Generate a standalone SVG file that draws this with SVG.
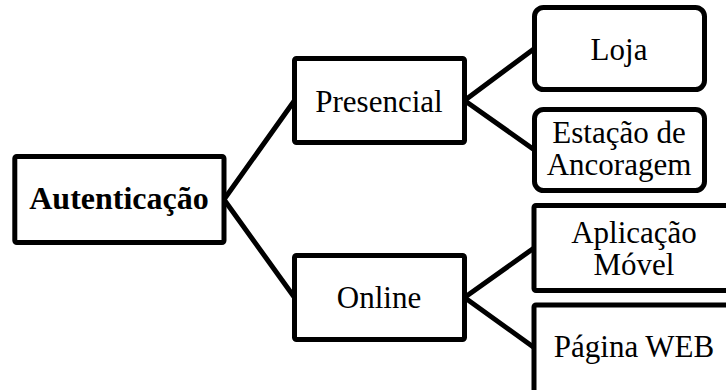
<svg xmlns="http://www.w3.org/2000/svg" width="726" height="390" viewBox="0 0 726 390">
  <style>
    .box { fill: #ffffff; stroke: #000000; stroke-width: 5; stroke-linejoin: round; }
    .link { stroke: #000000; stroke-width: 5; fill: none; stroke-linecap: round; }
    text { font-family: "Liberation Serif", "Times New Roman", serif; font-size: 31px; fill: #000000; text-anchor: middle; }
    .root { font-weight: bold; font-size: 32px; }
  </style>
  <rect width="726" height="390" fill="#ffffff"/>

  <!-- connectors between tree levels -->
  <g id="connectors">
    <line class="link" x1="224" y1="199.5" x2="294.5" y2="100.5"/>
    <line class="link" x1="224" y1="199.5" x2="294.5" y2="297.5"/>
    <line class="link" x1="464.5" y1="100.5" x2="534.5" y2="48.5"/>
    <line class="link" x1="464.5" y1="100.5" x2="534.5" y2="150"/>
    <line class="link" x1="464.5" y1="297.5" x2="534" y2="248"/>
    <line class="link" x1="464.5" y1="297.5" x2="534" y2="347.5"/>
  </g>

  <g id="autenticacao">
    <rect class="box" x="14.8" y="156.5" width="209.2" height="86" rx="2"/>
    <text class="root" x="119" y="209">Autenticação</text>
  </g>

  <g id="presencial">
    <rect class="box" x="294.5" y="58.5" width="170" height="84" rx="2"/>
    <text x="379" y="111.5">Presencial</text>
  </g>

  <g id="online">
    <rect class="box" x="294.5" y="255.5" width="170" height="84" rx="2"/>
    <text x="379" y="308">Online</text>
  </g>

  <g id="loja">
    <rect class="box" x="534.5" y="7.5" width="170" height="82" rx="9"/>
    <text x="619" y="60">Loja</text>
  </g>

  <g id="estacao">
    <rect class="box" x="534.5" y="109.5" width="170" height="81" rx="9"/>
    <text x="619" y="142.5">Estação de</text>
    <text x="619" y="175">Ancoragem</text>
  </g>

  <g id="aplicacao">
    <rect class="box" x="534" y="205.5" width="200" height="85" rx="2"/>
    <text x="634" y="243">Aplicação</text>
    <text x="634" y="275">Móvel</text>
  </g>

  <g id="pagina">
    <rect class="box" x="534" y="305" width="200" height="90" rx="2"/>
    <text x="634" y="357">Página WEB</text>
  </g>
</svg>
